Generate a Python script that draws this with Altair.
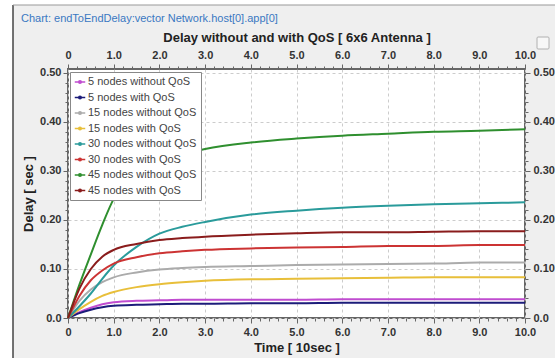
import altair as alt
import pandas as pd

# ---------------- data ----------------
TIME = [0, 0.25, 0.5, 0.75, 1, 1.5, 2, 2.5, 3, 4, 5, 6, 7, 8, 9, 10]

SERIES = ["5 nodes without QoS", "5 nodes with QoS",
          "15 nodes without QoS", "15 nodes with QoS",
          "30 nodes without QoS", "30 nodes with QoS",
          "45 nodes without QoS", "45 nodes with QoS"]

COLORS = ["#c04cd0", "#1c1c7a", "#ababab", "#e8bf3a",
          "#2a9b9b", "#cc3333", "#2f8f2f", "#8a1c1c"]

n5_without = [0, 0.012, 0.021, 0.028, 0.032, 0.035, 0.036, 0.037, 0.037, 0.037, 0.037, 0.038, 0.038, 0.038, 0.038, 0.038]
n5_with = [0, 0.010, 0.017, 0.022, 0.025, 0.027, 0.028, 0.029, 0.029, 0.030, 0.030, 0.031, 0.031, 0.031, 0.031, 0.031]
n15_without = [0, 0.035, 0.058, 0.073, 0.083, 0.093, 0.099, 0.102, 0.104, 0.106, 0.108, 0.109, 0.110, 0.111, 0.113, 0.113]
n15_with = [0, 0.018, 0.033, 0.045, 0.053, 0.063, 0.069, 0.073, 0.076, 0.079, 0.080, 0.081, 0.082, 0.083, 0.083, 0.083]
n30_without = [0, 0.024, 0.050, 0.080, 0.107, 0.145, 0.172, 0.186, 0.196, 0.211, 0.219, 0.225, 0.229, 0.232, 0.234, 0.236]
n30_with = [0, 0.045, 0.077, 0.097, 0.111, 0.124, 0.132, 0.136, 0.139, 0.142, 0.144, 0.145, 0.147, 0.147, 0.149, 0.149]
n45_without = [0, 0.068, 0.130, 0.190, 0.243, 0.290, 0.318, 0.334, 0.345, 0.358, 0.366, 0.372, 0.376, 0.380, 0.382, 0.385]
n45_with = [0, 0.060, 0.100, 0.125, 0.139, 0.151, 0.159, 0.163, 0.166, 0.170, 0.173, 0.175, 0.175, 0.176, 0.177, 0.177]

VALUES = [n5_without, n5_with, n15_without, n15_with,
          n30_without, n30_with, n45_without, n45_with]

X_TICKS = [round(i * 0.2, 1) for i in range(51)]
Y_TICKS = [round(i * 0.02, 2) for i in range(26)]

CHART_LABEL = "Chart: endToEndDelay:vector Network.host[0].app[0]"
TOP_TITLE = "Delay without and with QoS [ 6x6 Antenna ]"
X_TITLE = "Time [ 10sec ]"
Y_TITLE = "Delay [ sec ]"

rows = []
for name, vals in zip(SERIES, VALUES):
    for t, v in zip(TIME, vals):
        rows.append({"series": name, "order": SERIES.index(name), "t": t, "delay": v})
df = pd.DataFrame(rows)

# ---------------- styling ----------------
FONT = "Liberation Sans"
W, H = 457, 249
X_DOMAIN = [0, 10]
Y_DOMAIN = [0, 0.508]

x_major = "abs(datum.value - round(datum.value)) < 1e-6"
y_major = "abs(datum.value*10 - round(datum.value*10)) < 1e-6"
x_label = f"datum.value == 0 ? '0' : ({x_major} ? format(datum.value, '.1f') : '')"
y_label = f"datum.value == 0 ? '0.0' : ({y_major} ? format(datum.value, '.2f') : '')"


def axis(orient, values, label_expr, major, title=None, grid=False, **kw):
    args = dict(
        orient=orient, values=values, labelExpr=label_expr,
        labelFlush=False, labelOverlap=False, labelFont=FONT,
        labelFontSize=11, labelFontWeight="bold", labelColor="#333333",
        tickColor="#666666", tickWidth=1,
        tickSize={"condition": {"test": major, "value": 5}, "value": 3},
        domain=False, grid=grid,
        titleFont=FONT, titleFontWeight="bold", titleColor="#222222",
    )
    if grid:
        args.update(gridColor="#cccccc", gridDash=[3, 3], gridWidth=1,
                    gridOpacity={"condition": {"test": major, "value": 1}, "value": 0})
    if title is not None:
        args["title"] = title
    else:
        args["title"] = None
    args.update(kw)
    return alt.Axis(**args)


legend_symbol = ("M-1,0L1,0M-0.25,0A0.25,0.25,0,1,1,0.25,0"
                 "A0.25,0.25,0,1,1,-0.25,0")

base = alt.Chart(df)

lines = base.mark_line(strokeWidth=2, interpolate="monotone").encode(
    x=alt.X("t:Q", scale=alt.Scale(domain=X_DOMAIN, nice=False, zero=False),
            axis=axis("bottom", X_TICKS, x_label, x_major, title=X_TITLE, grid=True,
                      labelPadding=3, titlePadding=4, titleFontSize=13)),
    y=alt.Y("delay:Q", scale=alt.Scale(domain=Y_DOMAIN, nice=False),
            axis=axis("left", Y_TICKS, y_label, y_major, title=Y_TITLE, grid=True,
                      labelPadding=2, titlePadding=4, titleFontSize=13)),
    color=alt.Color("series:N",
                    scale=alt.Scale(domain=SERIES, range=COLORS),
                    sort=SERIES,
                    legend=alt.Legend(
                        title=None, orient="none", legendX=2, legendY=3,
                        fillColor="white", strokeColor="#888888",
                        padding=4, rowPadding=4.5,
                        labelFont=FONT, labelFontSize=11, labelColor="#444444",
                        labelOffset=2,
                        symbolType=legend_symbol, symbolSize=110,
                        symbolStrokeWidth=1.5)),
    order="order:Q",
)

mirror = base.mark_line(opacity=0).encode(
    x=alt.X("t:Q", scale=alt.Scale(domain=X_DOMAIN, nice=False, zero=False),
            axis=axis("top", X_TICKS, x_label, x_major, title=TOP_TITLE,
                      labelPadding=4, titlePadding=5, titleFontSize=13)),
    y=alt.Y("delay:Q", scale=alt.Scale(domain=Y_DOMAIN, nice=False),
            axis=axis("right", Y_TICKS, y_label, y_major, labelPadding=3)),
    detail="series:N",
)

one = pd.DataFrame({"label": [CHART_LABEL]})

# decorations around the panel (outside the plot area)
white_left = alt.Chart(one).mark_rect(color="white").encode(
    x=alt.value(-68), x2=alt.value(-55), y=alt.value(-69), y2=alt.value(289))
white_top = alt.Chart(one).mark_rect(color="white").encode(
    x=alt.value(-68), x2=alt.value(487), y=alt.value(-69), y2=alt.value(-64))
left_border = alt.Chart(one).mark_rule(color="#444444", strokeWidth=1.5).encode(
    x=alt.value(-55), y=alt.value(-64), y2=alt.value(289))
top_border = alt.Chart(one).mark_rule(color="#999999", strokeWidth=1).encode(
    x=alt.value(-55), x2=alt.value(487), y=alt.value(-64))
icon = alt.Chart(one).mark_rect(fill="#f7f7f7", stroke="#b0b0b0", strokeWidth=1,
                                cornerRadius=1).encode(
    x=alt.value(469), x2=alt.value(481), y=alt.value(-32), y2=alt.value(-20))
label = alt.Chart(one).mark_text(align="left", baseline="middle", font=FONT,
                                 fontSize=11, color="#3a78c2").encode(
    text="label:N", x=alt.value(-47), y=alt.value(-50))

chart = alt.layer(
    white_left, white_top, left_border, top_border, icon, label, lines, mirror
).resolve_scale(
    x="independent", y="independent"
).resolve_axis(
    x="independent", y="independent"
).properties(
    width=W, height=H,
    padding={"left": 68, "top": 69, "right": 30, "bottom": 40},
    autosize=alt.AutoSizeParams(type="none"),
    background="#efefef",
).configure_view(
    fill="white", stroke="#666666", strokeWidth=2
)

chart.save("out.html", embed_options={"renderer": "svg", "actions": False})
